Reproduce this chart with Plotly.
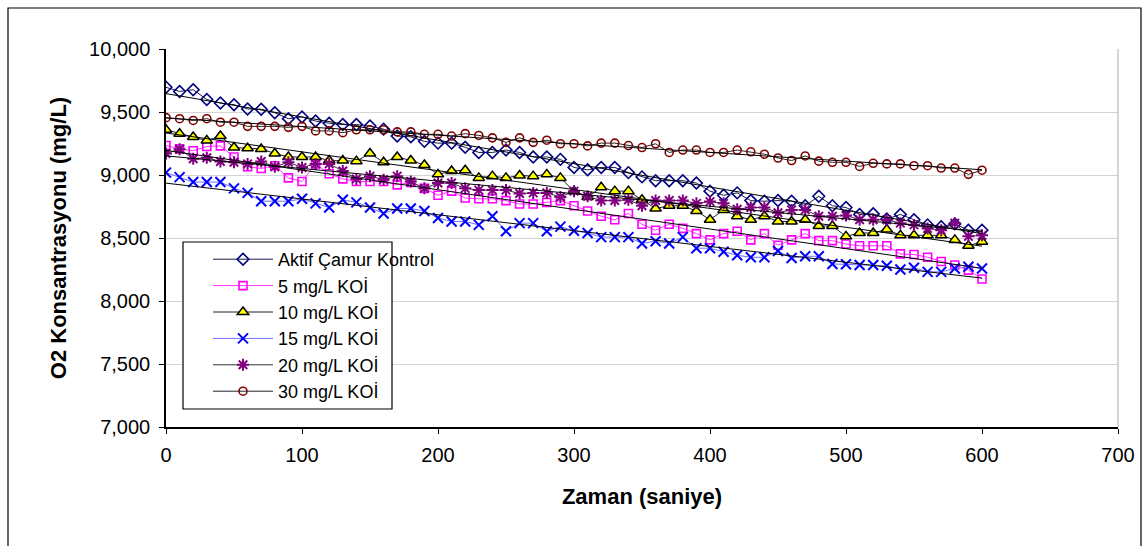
import numpy as np
import plotly.graph_objects as go

time_s = list(range(0, 601, 10))

aktif = [9696, 9663, 9677, 9599, 9571, 9558, 9524, 9522, 9494, 9447,
         9461, 9428, 9411, 9400, 9400, 9389, 9364, 9309, 9303, 9267,
         9253, 9253, 9220, 9179, 9179, 9198, 9179, 9143, 9143, 9124,
         9060, 9041, 9060, 9060, 9019, 8985, 8955, 8955, 8955, 8936,
         8872, 8839, 8858, 8797, 8792, 8797, 8792, 8756, 8831, 8756,
         8742, 8687, 8692, 8651, 8687, 8645, 8604, 8590, 8612, 8562, 8562]

koi5 = [9234, 9207, 9193, 9226, 9231, 9143, 9066, 9052, 9074, 8977,
        8949, 9088, 9010, 8969, 8949, 8949, 8949, 8922, 8941, 8894,
        8839, 8872, 8817, 8811, 8811, 8797, 8770, 8770, 8783, 8797,
        8756, 8714, 8673, 8645, 8695, 8609, 8562, 8609, 8576, 8535,
        8485, 8535, 8554, 8485, 8535, 8443, 8485, 8535, 8479, 8479,
        8452, 8438, 8438, 8438, 8374, 8369, 8347, 8314, 8286, 8245, 8175]

koi10 = [9359, 9328, 9301, 9273, 9309, 9218, 9212, 9207, 9171, 9143,
         9143, 9143, 9115, 9115, 9110, 9171, 9101, 9143, 9115, 9079,
         9005, 9032, 9038, 8977, 8991, 8977, 8996, 8991, 9005, 8977,
         8872, 8825, 8902, 8872, 8872, 8803, 8734, 8756, 8756, 8714,
         8645, 8723, 8673, 8645, 8673, 8631, 8631, 8645, 8595, 8595,
         8513, 8540, 8540, 8568, 8521, 8521, 8521, 8521, 8485, 8438, 8471]

koi15 = [9019, 8983, 8944, 8944, 8944, 8894, 8858, 8792, 8792, 8792,
         8811, 8775, 8742, 8803, 8783, 8742, 8695, 8734, 8734, 8714,
         8659, 8631, 8631, 8604, 8673, 8554, 8618, 8618, 8554, 8590,
         8557, 8540, 8507, 8507, 8507, 8457, 8474, 8457, 8507, 8419,
         8419, 8391, 8363, 8347, 8347, 8397, 8341, 8355, 8355, 8294,
         8291, 8286, 8286, 8280, 8250, 8264, 8231, 8231, 8258, 8272, 8258]

koi20 = [9171, 9204, 9129, 9137, 9107, 9101, 9088, 9107, 9066, 9101,
         9060, 9088, 9088, 9032, 8969, 8991, 8963, 8991, 8949, 8894,
         8936, 8936, 8894, 8880, 8880, 8880, 8853, 8858, 8858, 8825,
         8872, 8831, 8797, 8797, 8803, 8756, 8797, 8797, 8797, 8775,
         8789, 8775, 8728, 8742, 8742, 8701, 8723, 8723, 8673, 8673,
         8679, 8645, 8645, 8645, 8618, 8604, 8576, 8562, 8618, 8513, 8521]

koi30 = [9455, 9447, 9433, 9447, 9419, 9419, 9386, 9386, 9386, 9378,
         9386, 9350, 9350, 9336, 9359, 9359, 9359, 9342, 9342, 9323,
         9323, 9309, 9328, 9314, 9295, 9259, 9295, 9259, 9276, 9248,
         9248, 9231, 9253, 9253, 9234, 9218, 9248, 9179, 9198, 9198,
         9179, 9179, 9198, 9184, 9165, 9135, 9115, 9151, 9110, 9101,
         9101, 9068, 9093, 9088, 9088, 9074, 9074, 9055, 9055, 9005, 9038]

names = ["Aktif Çamur Kontrol", "5 mg/L KOİ", "10 mg/L KOİ",
         "15 mg/L KOİ", "20 mg/L KOİ", "30 mg/L KOİ"]
series = [aktif, koi5, koi10, koi15, koi20, koi30]

styles = [
    dict(line_color="#1a1a4a", marker=dict(symbol="diamond-open", size=9, color="#000080", line=dict(width=1.6, color="#000080"))),
    dict(line_color="#ff33ff", marker=dict(symbol="square-open", size=8, color="#ff00ff", line=dict(width=1.6, color="#ff00ff"))),
    dict(line_color="#222222", marker=dict(symbol="triangle-up", size=10, color="#ffff00", line=dict(width=1.5, color="#000000"))),
    dict(line_color="#6f6fff", marker=dict(symbol="x-thin-open", size=10, color="#0000ff", line=dict(width=2, color="#0000ff"))),
    dict(line_color="#333333", marker=dict(symbol="asterisk-open", size=10, color="#800080", line=dict(width=2, color="#800080"))),
    dict(line_color="#222222", marker=dict(symbol="circle-open", size=8, color="#800000", line=dict(width=1.6, color="#800000"))),
]

fig = go.Figure()
for name, vals, st in zip(names, series, styles):
    fig.add_trace(go.Scatter(
        x=time_s, y=vals, name=name, mode="lines+markers",
        line=dict(color=st["line_color"], width=1),
        marker=st["marker"],
    ))

# linear trendlines computed from the data
for vals in series:
    k, b = np.polyfit(time_s, vals, 1)
    xs = np.array([time_s[0], time_s[-1]])
    fig.add_trace(go.Scatter(
        x=xs, y=k * xs + b, mode="lines", showlegend=False,
        line=dict(color="#000000", width=1), hoverinfo="skip",
    ))

font_family = "Liberation Sans, Arial, sans-serif"
PW, PH = 952.0, 378.0  # plot area size in px


def px_x(px):
    return (px - 166) / PW


def px_y(py):
    return (427 - py) / PH


fig.update_layout(
    width=1147, height=546,
    margin=dict(l=166, r=29, t=49, b=119),
    paper_bgcolor="white", plot_bgcolor="white",
    font=dict(family=font_family, size=18, color="#000000"),
    showlegend=True,
    legend=dict(
        x=px_x(208), y=px_y(241), xanchor="left", yanchor="top",
        borderwidth=0, bgcolor="rgba(0,0,0,0)",
        font=dict(family=font_family, size=18, color="#000000"),
        itemwidth=60, tracegroupgap=0,
    ),
    xaxis=dict(
        range=[0, 700], dtick=100, tick0=0,
        showgrid=False, zeroline=False,
        showline=True, linecolor="#000000", linewidth=1.5,
        ticks="outside", ticklen=5, tickcolor="#000000",
        tickfont=dict(size=20), ticklabelstandoff=4,
        title=dict(text="<b>Zaman (saniye)</b>", font=dict(size=22), standoff=24),
    ),
    yaxis=dict(
        range=[7000, 10000], dtick=500, tick0=7000,
        tickformat=",d",
        showgrid=True, gridcolor="#d4d4d4", gridwidth=1, zeroline=False,
        showline=True, linecolor="#000000", linewidth=1.5,
        ticks="outside", ticklen=5, tickcolor="#000000",
        tickfont=dict(size=20), ticklabelstandoff=5,
        title=dict(text="<b>O2 Konsantrasyonu (mg/L)</b>", font=dict(size=22), standoff=16),
    ),
    shapes=[
        # plot area right border (gray)
        dict(type="line", xref="paper", yref="paper", x0=1, x1=1, y0=0, y1=1,
             line=dict(color="#c8c8c8", width=1.5)),
        # legend box (text overflows it, as in the original)
        dict(type="rect", xref="paper", yref="paper",
             x0=px_x(183), x1=px_x(392), y0=px_y(409), y1=px_y(242),
             line=dict(color="#000000", width=1.2), fillcolor="white", layer="above"),
        # outer chart frame
        dict(type="rect", xref="paper", yref="paper",
             x0=px_x(8), x1=px_x(1141), y0=-0.6, y1=px_y(8),
             line=dict(color="#000000", width=1.2), fillcolor="rgba(0,0,0,0)", layer="below"),
    ],
)

fig.write_html("out.html")
